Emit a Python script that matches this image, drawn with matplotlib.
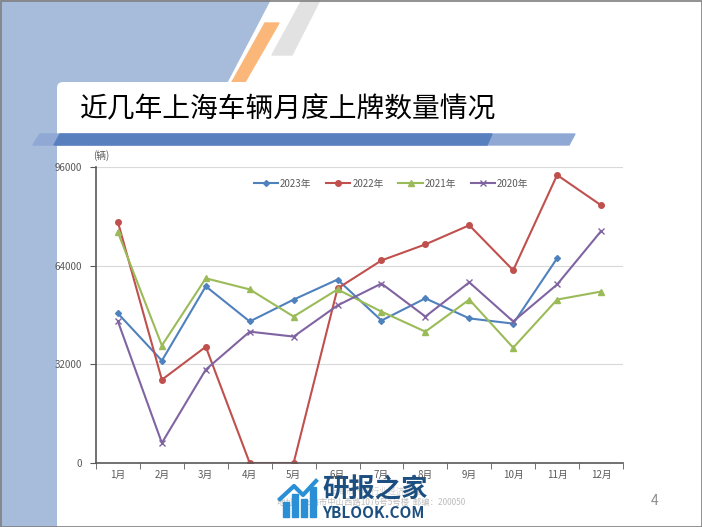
import matplotlib
matplotlib.use("Agg")
import matplotlib.pyplot as plt
from matplotlib.patches import Polygon, Rectangle, FancyBboxPatch
import numpy as np

plt.rcParams['font.family'] = ['Noto Sans CJK SC', 'DejaVu Sans']

# data
months = ["1月", "2月", "3月", "4月", "5月", "6月", "7月", "8月", "9月", "10月", "11月", "12月"]
y2023 = [48500, 33200, 57300, 45900, 53000, 59500, 46200, 53400, 46900, 45200, 66400]
y2022 = [78100, 27000, 37700, 0, 0, 56600, 65700, 70900, 77100, 62500, 93400, 83600]
y2021 = [74800, 38100, 59900, 56300, 47500, 56300, 49100, 42600, 53000, 37400, 53000, 55600]
y2020 = [45900, 6500, 30300, 42600, 41000, 51100, 58200, 47500, 58600, 45900, 57900, 75200]
yticks = [0, 32000, 64000, 96000]

W, H = 702, 527
fig = plt.figure(figsize=(W / 100, H / 100), dpi=100)

# background decorations in pixel coords
bg = fig.add_axes([0, 0, 1, 1])
bg.set_xlim(0, W)
bg.set_ylim(H, 0)
bg.axis("off")
bg.add_patch(Rectangle((0, 0), W, H, color="white", zorder=0))
bg.add_patch(Polygon([(0, 0), (270, 0), (226, 84), (0, 84)], color="#a7bbdb", zorder=1))
bg.add_patch(Rectangle((0, 80), 58, H, color="#a7bbdb", zorder=1))
bg.add_patch(Polygon([(302, 0), (320, 0), (292, 55), (272, 55)], color="#e2e2e2", zorder=1))
bg.add_patch(Polygon([(265, 23), (279, 23), (245, 82), (232, 82)], color="#fbb77a", zorder=2))
bg.add_patch(FancyBboxPatch((57, 82), W, H, boxstyle="round,pad=0,rounding_size=6",
                            fc="white", ec="none", zorder=3))
bg.add_patch(Polygon([(40, 134), (575, 134), (569, 145), (33, 145)], color="#90a9d4", zorder=4))
bg.add_patch(Polygon([(60, 134), (492, 134), (487, 145), (54, 145)], color="#5880be", zorder=5))
bg.add_patch(Rectangle((0.5, 0.5), W - 1, H - 1, fill=False, ec="#7f7f7f", lw=1.2, zorder=6))
bg.text(80, 109, "近几年上海车辆月度上牌数量情况", fontsize=20, va="center", ha="left",
        color="black", zorder=6)
bg.text(655, 501, "4", fontsize=10, color="#8c8c8c", ha="center", va="center", zorder=6)

# watermark
for bx, bh in [(283, 15), (292, 23), (301, 18), (310, 30)]:
    bg.add_patch(Rectangle((bx, 517 - bh), 6, bh, color="#2b8fd6", zorder=7))
bg.plot([280, 294, 303, 316], [499, 486, 495, 481], color="#2b8fd6", lw=3, zorder=7)
bg.text(330, 491, "上海市汽车行业经济研究", fontsize=6, color="#cfcfcf",
        ha="left", va="center", zorder=6)
bg.text(277, 502, "地址：上海市中山西路1076号5号楼  邮编：200050", fontsize=6,
        color="#bdbdbd", ha="left", va="center", zorder=6)
bg.text(322, 490, "研报之家", fontsize=19, fontweight="bold", color="#1c4f7f",
        ha="left", va="center", zorder=8)
bg.text(322, 513, "YBLOOK.COM", fontsize=11, fontweight="bold", color="#1c4f7f",
        ha="left", va="center", zorder=8)

# chart
ax = fig.add_axes([96 / W, 1 - 463 / H, (623 - 96) / W, (463 - 167) / H])
ax.set_zorder(5)
ax.patch.set_alpha(0)
x = np.arange(1, 13)
ax.plot(x[:len(y2023)], y2023, color="#4f81bd", marker="D", ms=3, lw=1.5, label="2023年")
ax.plot(x, y2022, color="#c0504d", marker="o", ms=4, lw=1.5, label="2022年")
ax.plot(x, y2021, color="#9bbb59", marker="^", ms=5, lw=1.5, label="2021年")
ax.plot(x, y2020, color="#8064a2", marker="x", ms=5, mew=1, lw=1.5, label="2020年")

ax.set_xlim(0.5, 12.5)
ax.set_ylim(0, 96000)
ax.set_yticks(yticks)
ax.set_yticklabels([str(v) for v in yticks])
ax.set_xticks(x)
ax.set_xticklabels(months)
ax.set_xticks(np.arange(0.5, 13, 1), minor=True)
ax.tick_params(axis="x", which="major", length=0, pad=5)
ax.tick_params(axis="x", which="minor", length=4, color="#595959", direction="out")
ax.tick_params(axis="y", length=4, color="#595959", pad=6)
ax.tick_params(labelsize=7, labelcolor="#595959")
ax.grid(axis="y", color="#d9d9d9", lw=0.8)
ax.set_axisbelow(True)
for s in ["top", "right"]:
    ax.spines[s].set_visible(False)
for s in ["left", "bottom"]:
    ax.spines[s].set_color("#595959")
    ax.spines[s].set_linewidth(1.2)
ax.text(-0.005, 1.02, "(辆)", transform=ax.transAxes, fontsize=7, color="#595959",
        ha="left", va="bottom")
ax.legend(loc="upper center", bbox_to_anchor=(0.56, 0.99), ncol=4, frameon=False,
          fontsize=7, handlelength=2.5, handletextpad=0.2, columnspacing=1.5,
          labelcolor="#595959")

fig.savefig("out.png", dpi=100)
